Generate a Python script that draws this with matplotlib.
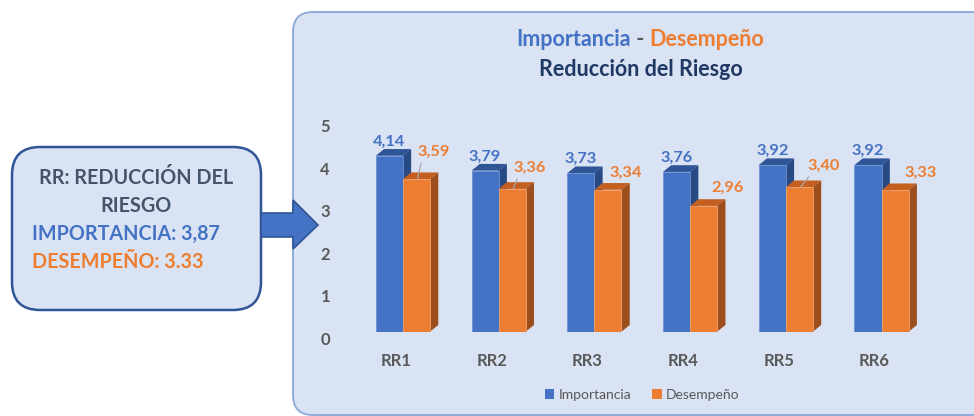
import matplotlib
matplotlib.use('Agg')
import matplotlib.pyplot as plt
from matplotlib.patches import FancyBboxPatch, Polygon, Patch
from matplotlib.transforms import ScaledTranslation
import numpy as np

plt.rcParams['font.family'] = ['Lato', 'DejaVu Sans']

# Datos del grafico
categorias = ['RR1', 'RR2', 'RR3', 'RR4', 'RR5', 'RR6']
importancia = [4.14, 3.79, 3.73, 3.76, 3.92, 3.92]
desempeno = [3.59, 3.36, 3.34, 2.96, 3.40, 3.33]
ticks_y = [0, 1, 2, 3, 4, 5]
resumen_imp = '3,87'
resumen_des = '3.33'

# Colores (tema de Office)
AZUL = '#4472C4'
AZUL_TOP = '#2F5597'
AZUL_LADO = '#284A84'
NARANJA = '#ED7D31'
NARANJA_TOP = '#C45F1F'
NARANJA_LADO = '#9C4F1D'
FONDO = '#DAE3F3'
GRIS = '#595959'
NAVY = '#1F3864'

# desplazamiento (px) de las etiquetas naranjas y si llevan linea guia
desp_naranja = [(16, 27), (17, 21), (17, 17), (23, 18), (23, 21), (25, 17)]
guias = [True, True, False, False, True, False]

W, H = 974, 416
fig = plt.figure(figsize=(W / 100, H / 100), dpi=100)
fig.patch.set_facecolor('white')

# Ejes de fondo en pixeles para el panel, la caja y la flecha
bg = fig.add_axes([0, 0, 1, 1])
bg.set_xlim(0, W)
bg.set_ylim(H, 0)
bg.axis('off')

panel = FancyBboxPatch((293, 12), 720, 403, boxstyle='round,pad=0,rounding_size=20',
                       facecolor=FONDO, edgecolor='#8FAADC', linewidth=1.4)
bg.add_patch(panel)

caja = FancyBboxPatch((12, 147), 249, 163, boxstyle='round,pad=0,rounding_size=28',
                      facecolor=FONDO, edgecolor='#2F5597', linewidth=1.8)
bg.add_patch(caja)

flecha = Polygon([(261, 213), (293, 213), (293, 200), (318, 225), (293, 249),
                  (293, 237), (261, 237)], closed=True,
                 facecolor=AZUL, edgecolor='#2F5597', linewidth=1.2)
bg.add_patch(flecha)

kw_caja = dict(va='center', fontsize=14.2, fontweight='bold')
bg.text(136, 178, 'RR: REDUCCIÓN DEL', ha='center', color='#44546A', **kw_caja)
bg.text(136, 206, 'RIESGO', ha='center', color='#44546A', **kw_caja)
bg.text(32, 234, 'IMPORTANCIA: ' + resumen_imp, ha='left', color=AZUL, **kw_caja)
bg.text(32, 262, 'DESEMPEÑO: ' + resumen_des, ha='left', color=NARANJA, **kw_caja)

# Titulo en tres piezas colocadas una tras otra
renderer = fig.canvas.get_renderer()
piezas = [('Importancia', AZUL), (' - ', GRIS), ('Desempeño', NARANJA)]
objs = [bg.text(0, 39, s, ha='left', va='center', fontsize=15.5, fontweight='bold', color=c)
        for s, c in piezas]
anchos = [o.get_window_extent(renderer).width for o in objs]
xpos = 640 - sum(anchos) / 2
for o, a in zip(objs, anchos):
    o.set_x(xpos)
    xpos += a
bg.text(641, 69, 'Reducción del Riesgo', ha='center', va='center', fontsize=15.5,
        fontweight='bold', color=NAVY)

# Ejes del grafico de barras
ax = fig.add_axes([355 / W, (H - 331.7) / H, 574.4 / W, 212.5 / H])
ax.set_facecolor('none')
ax.set_xlim(-0.5, len(categorias) - 0.5)
ax.set_ylim(0, 5)
for s in ax.spines.values():
    s.set_visible(False)

x = np.arange(len(categorias))
ancho = 0.283
b1 = ax.bar(x - ancho / 2, importancia, ancho, color=AZUL, edgecolor='#6F93D3',
            linewidth=0.6, zorder=3)
b2 = ax.bar(x + ancho / 2, desempeno, ancho, color=NARANJA, edgecolor='#F2A06A',
            linewidth=0.6, zorder=5)

# profundidad 3D en pixeles -> unidades de datos
p0 = ax.transData.transform((0, 0))
inv = ax.transData.inverted()
dxd, dyd = inv.transform(p0 + np.array([8.3, 6.7])) - inv.transform(p0)


def caras_3d(barras, c_top, c_lado, z):
    for r in barras:
        x0, x1 = r.get_x(), r.get_x() + r.get_width()
        h = r.get_height()
        top = Polygon([(x0, h), (x1, h), (x1 + dxd, h + dyd), (x0 + dxd, h + dyd)],
                      closed=True, facecolor=c_top, edgecolor='none', zorder=z, clip_on=False)
        lado = Polygon([(x1, 0), (x1, h), (x1 + dxd, h + dyd), (x1 + dxd, dyd)],
                       closed=True, facecolor=c_lado, edgecolor='none', zorder=z, clip_on=False)
        ax.add_patch(top)
        ax.add_patch(lado)


caras_3d(b1, AZUL_TOP, AZUL_LADO, 2.9)
caras_3d(b2, NARANJA_TOP, NARANJA_LADO, 4.9)

# Etiquetas de datos
for r, v in zip(b1, importancia):
    ax.annotate(f'{v:.2f}'.replace('.', ','), (r.get_x() + r.get_width() / 2, v),
                xytext=(0, 10), textcoords='offset points', ha='center', va='center',
                fontsize=11.8, fontweight='bold', color=AZUL, zorder=6)
for r, v, (ddx, ddy), guia in zip(b2, desempeno, desp_naranja, guias):
    ax.annotate(f'{v:.2f}'.replace('.', ','), (r.get_x() + r.get_width() / 2 + 0.01, v),
                xytext=(ddx * 0.72, ddy * 0.72), textcoords='offset points',
                ha='center', va='center',
                fontsize=11.8, fontweight='bold', color=NARANJA, zorder=6,
                arrowprops=dict(arrowstyle='-', color='#A6A6A6', lw=0.9,
                                relpos=(0.15, 0.0), shrinkA=1, shrinkB=0) if guia else None)

# Ejes
ax.set_yticks(ticks_y)
ax.set_xticks(x)
ax.set_xticklabels(categorias)
ax.tick_params(axis='y', length=0, pad=18, labelsize=12, labelcolor=GRIS)
ax.tick_params(axis='x', length=0, pad=15, labelsize=12, labelcolor=GRIS)
for lab in ax.get_yticklabels():
    lab.set_fontweight('bold')
    lab.set_transform(lab.get_transform() + ScaledTranslation(0, -0.065, fig.dpi_scale_trans))
for lab in ax.get_xticklabels():
    lab.set_fontweight('bold')
    lab.set_transform(lab.get_transform() + ScaledTranslation(-0.07, 0, fig.dpi_scale_trans))

# Leyenda
handles = [Patch(facecolor=AZUL), Patch(facecolor=NARANJA)]
fig.legend(handles, ['Importancia', 'Desempeño'], loc='center', ncol=2,
           bbox_to_anchor=(642 / W, 1 - 395 / H), frameon=False, fontsize=10,
           labelcolor=GRIS, handlelength=0.7, handleheight=0.7, handletextpad=0.3,
           columnspacing=1.5)

fig.savefig('out.png', dpi=100, facecolor='white')
